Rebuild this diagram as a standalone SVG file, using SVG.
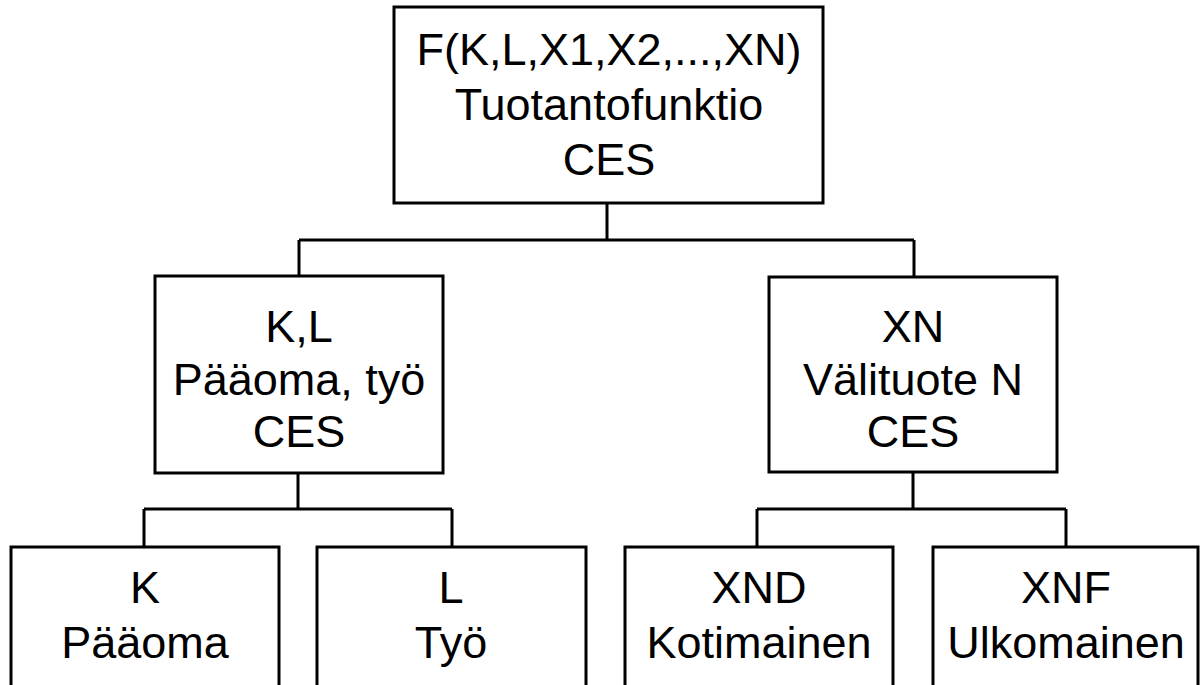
<svg xmlns="http://www.w3.org/2000/svg" width="1204" height="685" viewBox="0 0 1204 685">
<style>
.box{fill:#fff;stroke:#000;stroke-width:3}
.conn{fill:none;stroke:#000;stroke-width:3}
text{font-family:"Liberation Sans",Arial,sans-serif;font-size:45px;fill:#000;text-anchor:middle}
</style>
<rect x="0" y="0" width="1204" height="685" fill="#fff"/>
<g id="connectors">
<path class="conn" d="M607,203 V240 M299,240 H914 M299,240 V276 M914,240 V277"/>
<path class="conn" d="M298,473 V509 M144,509 H452 M144,509 V547 M452,509 V547"/>
<path class="conn" d="M913,472 V509 M757,509 H1066 M757,509 V547 M1066,509 V547"/>
</g>
<g id="top">
<rect class="box" x="394" y="7" width="429" height="196"/>
<text x="609" y="65">F(K,L,X1,X2,...,XN)</text>
<text x="609" y="120">Tuotantofunktio</text>
<text x="609" y="175">CES</text>
</g>
<g id="kl">
<rect class="box" x="155" y="276" width="288" height="197"/>
<text x="299" y="342">K,L</text>
<text x="299" y="395">Pääoma, työ</text>
<text x="299" y="447">CES</text>
</g>
<g id="xn">
<rect class="box" x="769" y="277" width="288" height="195"/>
<text x="913" y="342">XN</text>
<text x="913" y="395">Välituote N</text>
<text x="913" y="447">CES</text>
</g>
<g id="k">
<rect class="box" x="11" y="547" width="268" height="160"/>
<text x="145" y="603">K</text>
<text x="145" y="658">Pääoma</text>
</g>
<g id="l">
<rect class="box" x="317" y="547" width="269" height="160"/>
<text x="451" y="603">L</text>
<text x="451" y="658">Työ</text>
</g>
<g id="xnd">
<rect class="box" x="625" y="547" width="268" height="160"/>
<text x="759" y="603">XND</text>
<text x="759" y="658">Kotimainen</text>
</g>
<g id="xnf">
<rect class="box" x="933" y="547" width="265" height="160"/>
<text x="1066" y="603">XNF</text>
<text x="1066" y="658">Ulkomainen</text>
</g>
</svg>
